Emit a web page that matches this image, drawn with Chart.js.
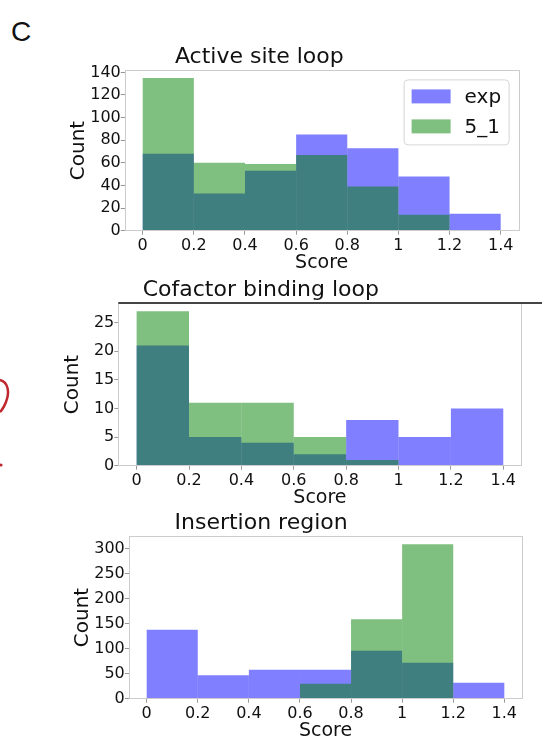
<!DOCTYPE html>
<html>
<head>
<meta charset="utf-8">
<script src="https://cdn.jsdelivr.net/npm/chart.js@4.4.1/dist/chart.umd.min.js"></script>
<style>
  html, body { margin: 0; padding: 0; background: #fff; }
  body { width: 542px; height: 740px; position: relative; overflow: hidden; }
  canvas { position: absolute; left: 0; }
  #panel { position: absolute; left: 11px; top: 18px; font: 28px "Liberation Sans", Arial, sans-serif; line-height: 1; color: #111; }
  #mark { position: absolute; left: 0; top: 370px; }
</style>
</head>
<body>
<div id="panel">C</div>
<svg id="mark" width="14" height="110">
  <path d="M0 10 C8 12, 10 22, 6 32 C4 37, 2 40, 0 42" stroke="#c0272d" stroke-width="2.5" fill="none"/>
  <circle cx="1" cy="95" r="1.6" fill="#c0272d"/>
</svg>
<canvas id="chartActive" width="542" height="230" style="top:44px"></canvas>
<canvas id="chartCofactor" width="542" height="232" style="top:277px"></canvas>
<canvas id="chartInsertion" width="542" height="232" style="top:510px"></canvas>
<script>
// bins of width 0.2 from 0 to 1.4
const binCenters = [0.1, 0.3, 0.5, 0.7, 0.9, 1.1, 1.3];
const xTickValues = [0, 0.2, 0.4, 0.6, 0.8, 1, 1.2, 1.4];
const xTickLabels = ['0', '0.2', '0.4', '0.6', '0.8', '1', '1.2', '1.4'];
const seriesNames = ['exp', '5_1'];

const activeExp = [68, 33, 53, 85, 73, 48, 15];
const activeModel = [135, 60, 59, 67, 39, 14, 0];
const activeTicks = [0, 20, 40, 60, 80, 100, 120, 140];

const cofactorExp = [21, 5, 4, 2, 8, 5, 10];
const cofactorModel = [27, 11, 11, 5, 1, 0, 0];
const cofactorTicks = [0, 5, 10, 15, 20, 25];

const insertionExp = [138, 47, 58, 58, 96, 72, 32];
const insertionModel = [0, 0, 0, 30, 159, 309, 0];
const insertionTicks = [0, 50, 100, 150, 200, 250, 300];

const FONT = '"DejaVu Sans", Verdana, sans-serif';
const EXP_COLOR = 'rgba(0, 0, 255, 0.5)';
const MODEL_COLOR = 'rgba(0, 128, 0, 0.5)';

// axes frame like matplotlib spines (all four sides)
const framePlugin = {
  id: 'frame',
  afterDraw(chart, args, opts) {
    const { ctx, chartArea: a } = chart;
    ctx.save();
    ctx.lineWidth = 1;
    ctx.strokeStyle = opts.color || '#cccccc';
    ctx.strokeRect(Math.round(a.left) + 0.5, Math.round(a.top) + 0.5,
      Math.round(a.right - a.left), Math.round(a.bottom - a.top));
    if (opts.topColor) {
      ctx.strokeStyle = opts.topColor;
      ctx.lineWidth = 2;
      ctx.beginPath();
      ctx.moveTo(a.left, Math.round(a.top));
      ctx.lineTo(chart.width, Math.round(a.top));
      ctx.stroke();
    }
    ctx.restore();
  }
};

// legend box in the upper right corner of the plot
const boxLegendPlugin = {
  id: 'boxLegend',
  afterDraw(chart, args, opts) {
    if (!opts.show) return;
    const { ctx, chartArea: a } = chart;
    const w = 105, h = 65;
    const x = a.right - 10 - w, y = a.top + 9;
    ctx.save();
    ctx.beginPath();
    ctx.roundRect(x + 0.5, y + 0.5, w, h, 4);
    ctx.fillStyle = 'rgba(255,255,255,0.8)';
    ctx.fill();
    ctx.strokeStyle = '#d6d6d6';
    ctx.lineWidth = 1;
    ctx.stroke();
    ctx.font = '20px ' + FONT;
    ctx.textBaseline = 'middle';
    ctx.fillStyle = '#111';
    // legend order: exp first, then 5_1
    const entries = [...chart.data.datasets].sort((p, q) => q.order - p.order);
    entries.forEach((ds, i) => {
      const cy = y + 17 + i * 30;
      ctx.fillStyle = ds.backgroundColor;
      ctx.fillRect(x + 8, cy - 7, 39, 14);
      ctx.fillStyle = '#111';
      ctx.fillText(ds.label, x + 61, cy + 1);
    });
    ctx.restore();
  }
};

const toPoints = (arr) => arr.map((v, i) => ({ x: binCenters[i], y: v }));

const barStyle = { grouped: false, barPercentage: 1, categoryPercentage: 1, borderWidth: 0, inflateAmount: 0 };

const makeHistogram = (id, cfg) => {
  const yMax = Math.max(...cfg.exp, ...cfg.model) * 1.05;
  return new Chart(document.getElementById(id), {
    type: 'bar',
    data: {
      datasets: [
        { label: seriesNames[0], data: toPoints(cfg.exp), backgroundColor: EXP_COLOR, order: 2, ...barStyle },
        { label: seriesNames[1], data: toPoints(cfg.model), backgroundColor: MODEL_COLOR, order: 1, ...barStyle }
      ]
    },
    options: {
      responsive: false,
      animation: false,
      layout: { padding: { left: 0, right: cfg.padRight, top: 0, bottom: 0 } },
      plugins: {
        legend: { display: false },
        tooltip: { enabled: false },
        title: {
          display: true, text: cfg.title, color: '#111', padding: 0,
          font: { family: FONT, size: 22, weight: 'normal' }
        },
        frame: { color: '#cccccc', topColor: cfg.topColor },
        boxLegend: { show: cfg.legend }
      },
      scales: {
        x: {
          type: 'linear', min: -0.07, max: 1.47, offset: false,
          afterBuildTicks: (s) => { s.ticks = xTickValues.map(v => ({ value: v })); },
          afterFit: (s) => { s.height = 43.3; },
          ticks: {
            autoSkip: false, maxRotation: 0, padding: 2, color: '#111',
            font: { family: FONT, size: 16 },
            callback: (v, i) => xTickLabels[i]
          },
          grid: { offset: false, drawOnChartArea: false, tickLength: 4, tickColor: '#999' },
          border: { display: false },
          title: { display: true, text: 'Score', color: '#111', padding: 0, font: { family: FONT, size: 19 } }
        },
        y: {
          min: 0, max: yMax,
          afterBuildTicks: (s) => { s.ticks = cfg.yTicks.map(v => ({ value: v })); },
          afterFit: (s) => { s.width = cfg.left; },
          ticks: { padding: 0, color: '#111', font: { family: FONT, size: 16 }, callback: (v) => String(v) },
          grid: { drawOnChartArea: false, tickLength: 4, tickColor: '#999' },
          border: { display: false },
          title: { display: true, text: 'Count', color: '#111', padding: { top: cfg.left - 58, bottom: 0 }, font: { family: FONT, size: 20 } }
        }
      }
    },
    plugins: [framePlugin, boxLegendPlugin]
  });
};

makeHistogram('chartActive', {
  title: 'Active site loop', exp: activeExp, model: activeModel, yTicks: activeTicks,
  left: 124.8, padRight: 542 - 518.6, legend: true
});
makeHistogram('chartCofactor', {
  title: 'Cofactor binding loop', exp: cofactorExp, model: cofactorModel, yTicks: cofactorTicks,
  left: 118.3, padRight: 542 - 521.6, legend: false, topColor: '#444'
});
makeHistogram('chartInsertion', {
  title: 'Insertion region', exp: insertionExp, model: insertionModel, yTicks: insertionTicks,
  left: 128.8, padRight: 542 - 522.2, legend: false
});
</script>
</body>
</html>
